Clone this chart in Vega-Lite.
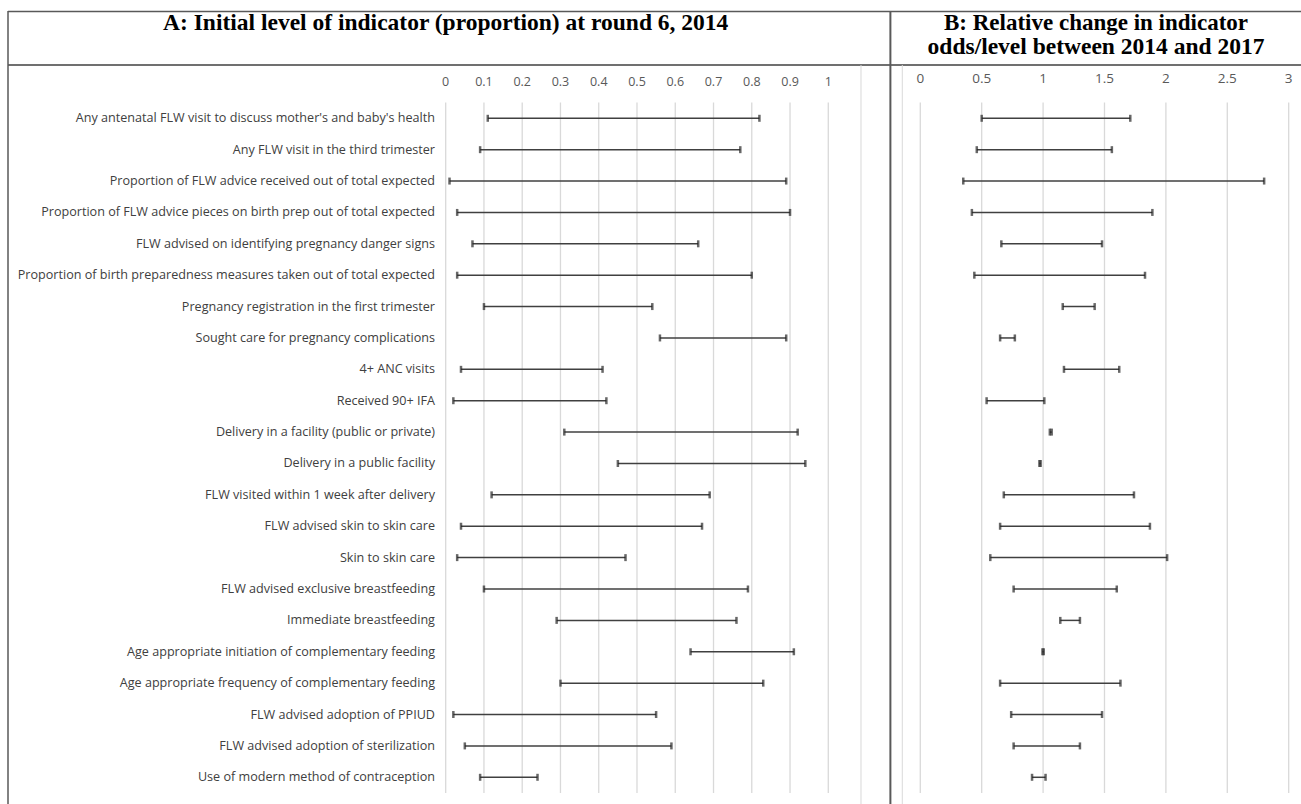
{
  "$schema": "https://vega.github.io/schema/vega-lite/v6.json",
  "padding": {"left": 7, "top": 10, "right": 0, "bottom": 0},
  "background": "white",
  "bounds": "flush",
  "spacing": 0,
  "config": {"view": {"stroke": null}},
  "datasets": {
    "rows": [
      {"indicator": "Any antenatal FLW visit to discuss mother's and baby's health", "idx": 1, "a_lo": 0.11, "a_hi": 0.82, "b_lo": 0.50, "b_hi": 1.71},
      {"indicator": "Any FLW visit in the third trimester", "idx": 2, "a_lo": 0.09, "a_hi": 0.77, "b_lo": 0.46, "b_hi": 1.56},
      {"indicator": "Proportion of FLW advice received out of total expected", "idx": 3, "a_lo": 0.01, "a_hi": 0.89, "b_lo": 0.35, "b_hi": 2.80},
      {"indicator": "Proportion of FLW advice pieces on birth prep out of total expected", "idx": 4, "a_lo": 0.03, "a_hi": 0.90, "b_lo": 0.42, "b_hi": 1.89},
      {"indicator": "FLW advised on identifying pregnancy danger signs", "idx": 5, "a_lo": 0.07, "a_hi": 0.66, "b_lo": 0.66, "b_hi": 1.48},
      {"indicator": "Proportion of birth preparedness measures taken out of total expected", "idx": 6, "a_lo": 0.03, "a_hi": 0.80, "b_lo": 0.44, "b_hi": 1.83},
      {"indicator": "Pregnancy registration in the first trimester", "idx": 7, "a_lo": 0.10, "a_hi": 0.54, "b_lo": 1.16, "b_hi": 1.42},
      {"indicator": "Sought care for pregnancy complications", "idx": 8, "a_lo": 0.56, "a_hi": 0.89, "b_lo": 0.65, "b_hi": 0.77},
      {"indicator": "4+ ANC visits", "idx": 9, "a_lo": 0.04, "a_hi": 0.41, "b_lo": 1.17, "b_hi": 1.62},
      {"indicator": "Received 90+ IFA", "idx": 10, "a_lo": 0.02, "a_hi": 0.42, "b_lo": 0.54, "b_hi": 1.01},
      {"indicator": "Delivery in a facility (public or private)", "idx": 11, "a_lo": 0.31, "a_hi": 0.92, "b_lo": 1.055, "b_hi": 1.07},
      {"indicator": "Delivery in a public facility ", "idx": 12, "a_lo": 0.45, "a_hi": 0.94, "b_lo": 0.97, "b_hi": 0.98},
      {"indicator": "FLW visited within 1 week after delivery", "idx": 13, "a_lo": 0.12, "a_hi": 0.69, "b_lo": 0.68, "b_hi": 1.74},
      {"indicator": "FLW advised skin to skin care", "idx": 14, "a_lo": 0.04, "a_hi": 0.67, "b_lo": 0.65, "b_hi": 1.87},
      {"indicator": "Skin to skin care", "idx": 15, "a_lo": 0.03, "a_hi": 0.47, "b_lo": 0.57, "b_hi": 2.01},
      {"indicator": "FLW advised exclusive breastfeeding", "idx": 16, "a_lo": 0.10, "a_hi": 0.79, "b_lo": 0.76, "b_hi": 1.60},
      {"indicator": "Immediate breastfeeding", "idx": 17, "a_lo": 0.29, "a_hi": 0.76, "b_lo": 1.14, "b_hi": 1.30},
      {"indicator": "Age appropriate initiation of complementary feeding", "idx": 18, "a_lo": 0.64, "a_hi": 0.91, "b_lo": 0.995, "b_hi": 1.005},
      {"indicator": "Age appropriate frequency of complementary feeding", "idx": 19, "a_lo": 0.30, "a_hi": 0.83, "b_lo": 0.65, "b_hi": 1.63},
      {"indicator": "FLW advised adoption of PPIUD", "idx": 20, "a_lo": 0.02, "a_hi": 0.55, "b_lo": 0.74, "b_hi": 1.48},
      {"indicator": "FLW advised adoption of sterilization", "idx": 21, "a_lo": 0.05, "a_hi": 0.59, "b_lo": 0.76, "b_hi": 1.30},
      {"indicator": "Use of modern method of contraception", "idx": 22, "a_lo": 0.09, "a_hi": 0.24, "b_lo": 0.91, "b_hi": 1.02}
    ],
    "gridA": [{"v": 0}, {"v": 0.1}, {"v": 0.2}, {"v": 0.3}, {"v": 0.4}, {"v": 0.5}, {"v": 0.6}, {"v": 0.7}, {"v": 0.8}, {"v": 0.9}, {"v": 1}],
    "gridB": [{"v": 0}, {"v": 0.5}, {"v": 1}, {"v": 1.5}, {"v": 2}, {"v": 2.5}, {"v": 3}]
  },
  "hconcat": [
    {
      "width": 882,
      "height": 794,
      "layer": [
        {
          "data": {"name": "gridA"},
          "mark": {"type": "rule", "color": "#d9d9d9", "strokeWidth": 1.3},
          "encoding": {
            "x": {"field": "v", "type": "quantitative", "scale": {"domain": [-1.144, 1.1613], "nice": false, "zero": false}, "axis": null},
            "y": {"datum": 0.5, "type": "quantitative", "scale": {"domain": [-2.419, 22.883], "reverse": true, "nice": false, "zero": false}, "axis": null},
            "y2": {"datum": 22.5}
          }
        },
        {
          "data": {"name": "gridA"},
          "mark": {"type": "text", "align": "center", "baseline": "middle", "font": "Open Sans", "fontSize": 12.5, "color": "#595959"},
          "encoding": {
            "x": {"field": "v", "type": "quantitative", "scale": {"domain": [-1.144, 1.1613], "nice": false, "zero": false}, "axis": null},
            "y": {"datum": -0.166, "type": "quantitative", "scale": {"domain": [-2.419, 22.883], "reverse": true, "nice": false, "zero": false}, "axis": null},
            "text": {"field": "v", "type": "quantitative", "format": "~g"}
          }
        },
        {
          "data": {"name": "rows"},
          "mark": {"type": "rule", "color": "#404040", "strokeWidth": 1.5},
          "encoding": {
            "x": {"field": "a_lo", "type": "quantitative", "scale": {"domain": [-1.144, 1.1613], "nice": false, "zero": false}, "axis": null},
            "x2": {"field": "a_hi"},
            "y": {"field": "idx", "type": "quantitative", "scale": {"domain": [-2.419, 22.883], "reverse": true, "nice": false, "zero": false}, "axis": null}
          }
        },
        {
          "data": {"name": "rows"},
          "mark": {"type": "tick", "orient": "vertical", "color": "#262626", "thickness": 2.5, "size": 7},
          "encoding": {
            "x": {"field": "a_lo", "type": "quantitative", "scale": {"domain": [-1.144, 1.1613], "nice": false, "zero": false}, "axis": null},
            "y": {"field": "idx", "type": "quantitative", "scale": {"domain": [-2.419, 22.883], "reverse": true, "nice": false, "zero": false}, "axis": null}
          }
        },
        {
          "data": {"name": "rows"},
          "mark": {"type": "tick", "orient": "vertical", "color": "#262626", "thickness": 2.5, "size": 7},
          "encoding": {
            "x": {"field": "a_hi", "type": "quantitative", "scale": {"domain": [-1.144, 1.1613], "nice": false, "zero": false}, "axis": null},
            "y": {"field": "idx", "type": "quantitative", "scale": {"domain": [-2.419, 22.883], "reverse": true, "nice": false, "zero": false}, "axis": null}
          }
        },
        {
          "data": {"name": "rows"},
          "mark": {"type": "text", "align": "right", "baseline": "middle", "font": "Open Sans", "fontSize": 12.6, "color": "#404040"},
          "encoding": {
            "x": {"datum": -0.028, "type": "quantitative", "scale": {"domain": [-1.144, 1.1613], "nice": false, "zero": false}, "axis": null},
            "y": {"field": "idx", "type": "quantitative", "scale": {"domain": [-2.419, 22.883], "reverse": true, "nice": false, "zero": false}, "axis": null},
            "text": {"field": "indicator"}
          }
        },
        {
          "data": {"values": [{"t": "A: Initial level of indicator (proportion) at round 6, 2014"}]},
          "mark": {"type": "text", "align": "center", "baseline": "middle", "font": "Liberation Serif", "fontWeight": "bold", "fontSize": 23.5, "color": "#000000"},
          "encoding": {
            "x": {"datum": 0, "type": "quantitative"},
            "y": {"datum": -2.037, "type": "quantitative"},
            "text": {"field": "t"}
          }
        },
        {
          "data": {"values": [{"edge": "top"}]},
          "mark": {"type": "rule", "color": "#595959", "strokeWidth": 1.5},
          "encoding": {"y": {"datum": -2.4, "type": "quantitative"}}
        },
        {
          "data": {"values": [{"edge": "title"}]},
          "mark": {"type": "rule", "color": "#404040", "strokeWidth": 1.5},
          "encoding": {"y": {"datum": -0.699, "type": "quantitative"}}
        },
        {
          "data": {"values": [{"edge": "left"}]},
          "mark": {"type": "rule", "color": "#595959", "strokeWidth": 1.5},
          "encoding": {"x": {"datum": -1.144, "type": "quantitative"}}
        },
        {
          "data": {"values": [{"edge": "inner"}]},
          "mark": {"type": "rule", "color": "#d9d9d9", "strokeWidth": 1},
          "encoding": {
            "x": {"datum": 1.0855, "type": "quantitative"},
            "y": {"datum": -0.699, "type": "quantitative"},
            "y2": {"datum": 22.883}
          }
        }
      ]
    },
    {
      "width": 411,
      "height": 794,
      "layer": [
        {
          "data": {"name": "gridB"},
          "mark": {"type": "rule", "color": "#d9d9d9", "strokeWidth": 1.3},
          "encoding": {
            "x": {"field": "v", "type": "quantitative", "scale": {"domain": [-0.2467, 3.1002], "nice": false, "zero": false}, "axis": null},
            "y": {"datum": 0.5, "type": "quantitative", "scale": {"domain": [-2.419, 22.883], "reverse": true, "nice": false, "zero": false}, "axis": null},
            "y2": {"datum": 22.5}
          }
        },
        {
          "data": {"name": "gridB"},
          "mark": {"type": "text", "align": "center", "baseline": "middle", "font": "Open Sans", "fontSize": 13.5, "color": "#595959"},
          "encoding": {
            "x": {"field": "v", "type": "quantitative", "scale": {"domain": [-0.2467, 3.1002], "nice": false, "zero": false}, "axis": null},
            "y": {"datum": -0.243, "type": "quantitative", "scale": {"domain": [-2.419, 22.883], "reverse": true, "nice": false, "zero": false}, "axis": null},
            "text": {"field": "v", "type": "quantitative", "format": "~g"}
          }
        },
        {
          "data": {"name": "rows"},
          "mark": {"type": "rule", "color": "#404040", "strokeWidth": 1.5},
          "encoding": {
            "x": {"field": "b_lo", "type": "quantitative", "scale": {"domain": [-0.2467, 3.1002], "nice": false, "zero": false}, "axis": null},
            "x2": {"field": "b_hi"},
            "y": {"field": "idx", "type": "quantitative", "scale": {"domain": [-2.419, 22.883], "reverse": true, "nice": false, "zero": false}, "axis": null}
          }
        },
        {
          "data": {"name": "rows"},
          "mark": {"type": "tick", "orient": "vertical", "color": "#262626", "thickness": 2.5, "size": 7},
          "encoding": {
            "x": {"field": "b_lo", "type": "quantitative", "scale": {"domain": [-0.2467, 3.1002], "nice": false, "zero": false}, "axis": null},
            "y": {"field": "idx", "type": "quantitative", "scale": {"domain": [-2.419, 22.883], "reverse": true, "nice": false, "zero": false}, "axis": null}
          }
        },
        {
          "data": {"name": "rows"},
          "mark": {"type": "tick", "orient": "vertical", "color": "#262626", "thickness": 2.5, "size": 7},
          "encoding": {
            "x": {"field": "b_hi", "type": "quantitative", "scale": {"domain": [-0.2467, 3.1002], "nice": false, "zero": false}, "axis": null},
            "y": {"field": "idx", "type": "quantitative", "scale": {"domain": [-2.419, 22.883], "reverse": true, "nice": false, "zero": false}, "axis": null}
          }
        },
        {
          "data": {"values": [{"t": "B: Relative change in indicator"}]},
          "mark": {"type": "text", "align": "center", "baseline": "middle", "font": "Liberation Serif", "fontWeight": "bold", "fontSize": 23, "color": "#000000"},
          "encoding": {
            "x": {"datum": 1.431, "type": "quantitative"},
            "y": {"datum": -2.037, "type": "quantitative"},
            "text": {"field": "t"}
          }
        },
        {
          "data": {"values": [{"t": "odds/level between 2014 and 2017"}]},
          "mark": {"type": "text", "align": "center", "baseline": "middle", "font": "Liberation Serif", "fontWeight": "bold", "fontSize": 23.5, "color": "#000000"},
          "encoding": {
            "x": {"datum": 1.431, "type": "quantitative"},
            "y": {"datum": -1.26, "type": "quantitative"},
            "text": {"field": "t"}
          }
        },
        {
          "data": {"values": [{"edge": "top"}]},
          "mark": {"type": "rule", "color": "#595959", "strokeWidth": 1.5},
          "encoding": {"y": {"datum": -2.4, "type": "quantitative"}}
        },
        {
          "data": {"values": [{"edge": "title"}]},
          "mark": {"type": "rule", "color": "#404040", "strokeWidth": 1.5},
          "encoding": {"y": {"datum": -0.699, "type": "quantitative"}}
        },
        {
          "data": {"values": [{"edge": "divider"}]},
          "mark": {"type": "rule", "color": "#595959", "strokeWidth": 2},
          "encoding": {"x": {"datum": -0.2435, "type": "quantitative"}}
        },
        {
          "data": {"values": [{"edge": "inner"}]},
          "mark": {"type": "rule", "color": "#d9d9d9", "strokeWidth": 1},
          "encoding": {
            "x": {"datum": -0.1466, "type": "quantitative"},
            "y": {"datum": -0.699, "type": "quantitative"},
            "y2": {"datum": 22.883}
          }
        }
      ]
    }
  ]
}
